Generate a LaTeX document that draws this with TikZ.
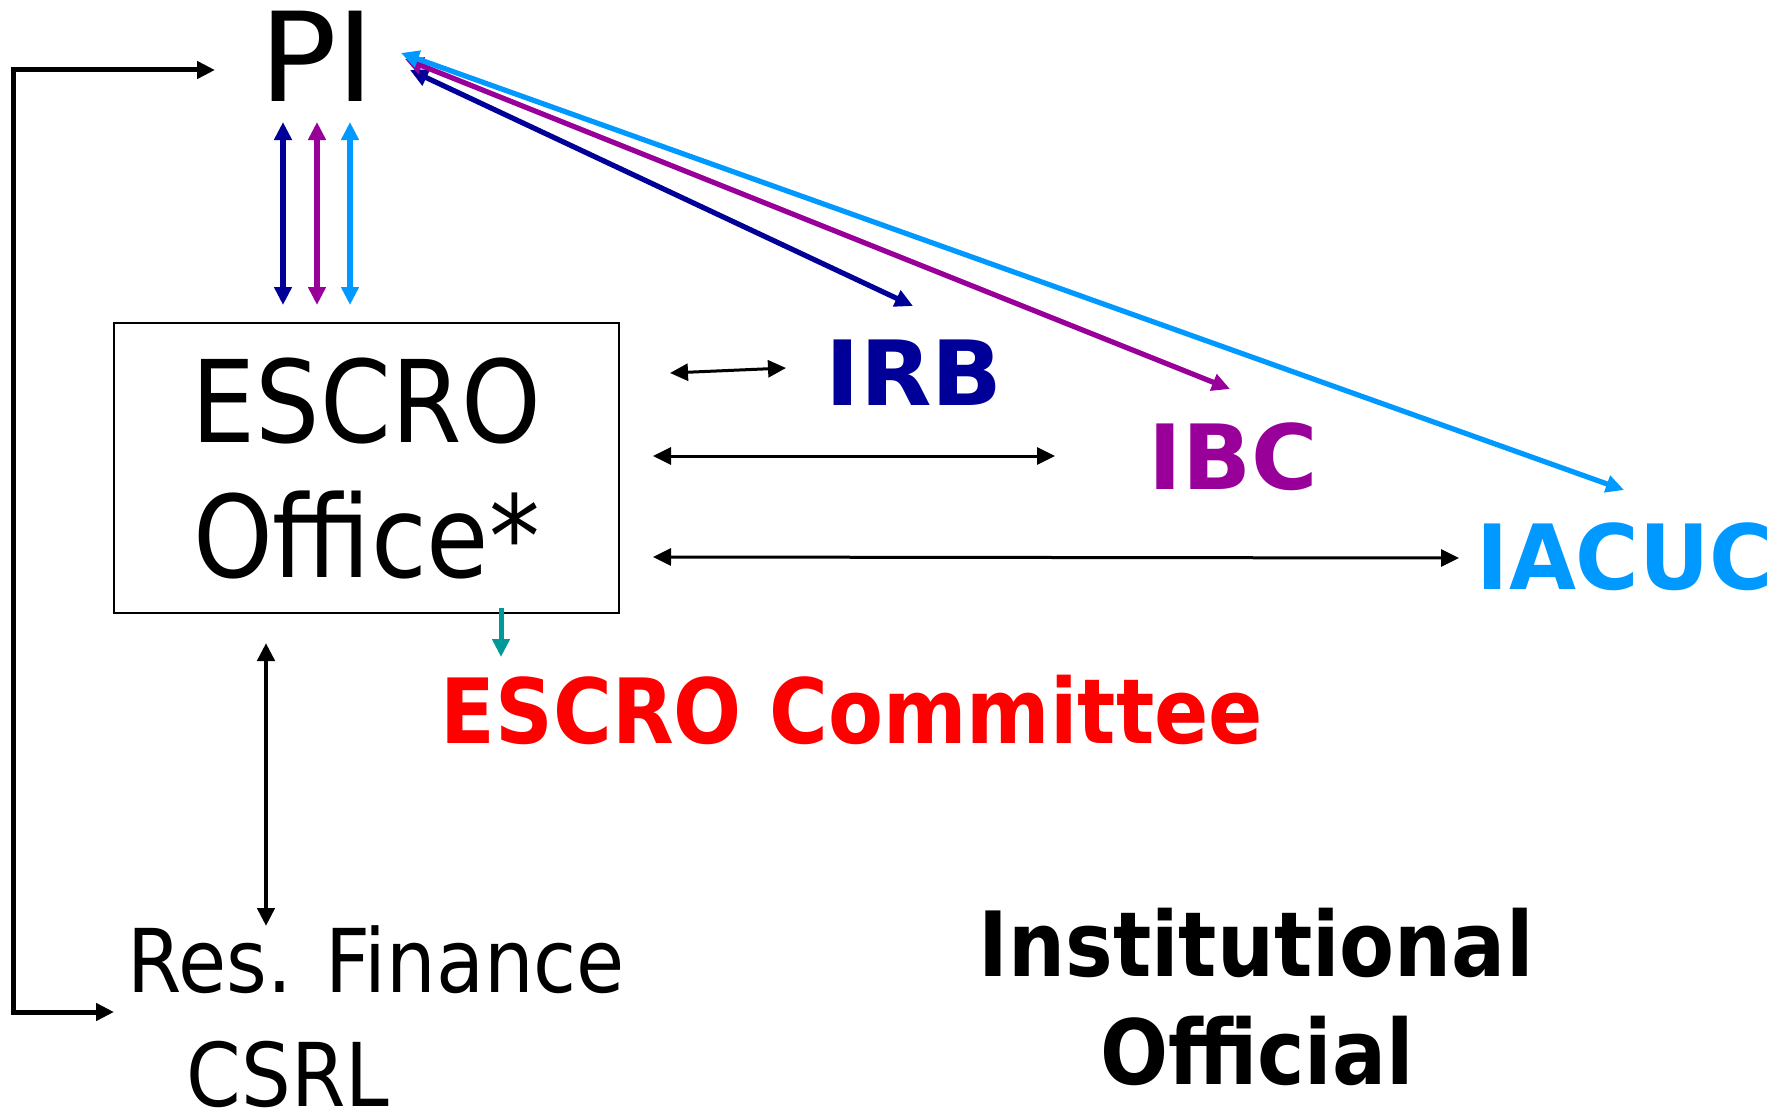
\documentclass[tikz,border=0pt]{standalone}
\usepackage{fontspec}
\usepackage{graphicx}
\setmainfont{DejaVu Sans}[FakeStretch=0.89]
\usetikzlibrary{arrows.meta}
\definecolor{irbblue}{HTML}{000099}
\definecolor{ibcpurple}{HTML}{990099}
\definecolor{iacuccyan}{HTML}{0099FF}
\definecolor{cmtteal}{HTML}{009999}
\definecolor{cmtred}{HTML}{FF0000}

\begin{document}
\begin{tikzpicture}[x=1pt,y=-1pt,
  >={Triangle[length=18pt,width=17pt]},
  txt/.style={anchor=base, inner sep=0pt},
  big/.style={font=\fontsize{124}{124}\selectfont},
  mid/.style={font=\fontsize{114}{135}\selectfont},
  small/.style={font=\fontsize{88}{88}\selectfont},
  heavy/.style={font=\fontsize{90}{90}\selectfont\bfseries},
  flow/.style={line width=5.2pt, <->},
  thinflow/.style={line width=3pt, <->},
  frame/.style={draw, line width=2.6pt, minimum width=505pt, minimum height=290pt,
                align=center, inner sep=0pt},
]
\useasboundingbox (0,0) rectangle (1775,1116);

% ---- nodes ----
\node[txt, big] (pi) at (317,102) {\scalebox{1.17}[1]{PI}};
\node[frame, mid] (office) at (366.5,468) {ESCRO\\Office*};
\node[txt, heavy, text=irbblue] (irb) at (914,405) {\scalebox{1.16}[1]{IRB}};
\node[txt, heavy, text=ibcpurple] (ibc) at (1233,489) {\scalebox{1.13}[1]{IBC}};
\node[txt, heavy, text=iacuccyan] (iacuc) at (1625,589) {\scalebox{1.08}[1]{IACUC}};
\node[txt, heavy, text=cmtred] (committee) at (852,743) {ESCRO Committee};
\node[txt, small] (resfin) at (376,992) {Res. Finance};
\node[txt, small] (csrl) at (288,1106) {CSRL};
\node[txt, heavy] (inst) at (1256,976) {Institutional};
\node[txt, heavy] (official) at (1257,1084) {Official};

% ---- connector end points ----
\coordinate (piL) at (215,70);
\coordinate (resL) at (114,1012);
\coordinate (piB1) at (283,122);  \coordinate (ofT1) at (283,305);
\coordinate (piB2) at (317,122);  \coordinate (ofT2) at (317,305);
\coordinate (piB3) at (350,122);  \coordinate (ofT3) at (350,305);
\coordinate (piR1) at (410,70);   \coordinate (irbT) at (913,306);
\coordinate (piR2) at (405,59);   \coordinate (ibcT) at (1230,389);
\coordinate (piR3) at (401,53);   \coordinate (iacucT) at (1624,490);
\coordinate (ofR1) at (670,373);  \coordinate (irbL) at (786,368);
\coordinate (ofR2) at (653,456);  \coordinate (ibcL) at (1055,456);
\coordinate (ofR3) at (653,557);  \coordinate (iacucL) at (1459,558);
\coordinate (ofB) at (501,608);   \coordinate (cmtT) at (501,657);
\coordinate (ofB2) at (266,643);  \coordinate (resT) at (266,926);

% ---- connectors ----
\draw[line width=5pt, <->, line join=miter] (resL) -- (13,1012) |- (piL);

\draw[flow, irbblue]   (piB1) -- (ofT1);
\draw[flow, ibcpurple] (piB2) -- (ofT2);
\draw[flow, iacuccyan] (piB3) -- (ofT3);

\draw[flow, irbblue]   (piR1) -- (irbT);
\draw[flow, ibcpurple] (piR2) -- (ibcT);
\draw[flow, iacuccyan] (piR3) -- (iacucT);

\draw[thinflow] (ofR1) -- (irbL);
\draw[thinflow] (ofR2) -- (ibcL);
\draw[thinflow] (ofR3) -- (iacucL);

\draw[line width=5pt, ->, cmtteal] (ofB) -- (cmtT);
\draw[line width=4.5pt, <->] (ofB2) -- (resT);
\end{tikzpicture}
\end{document}
